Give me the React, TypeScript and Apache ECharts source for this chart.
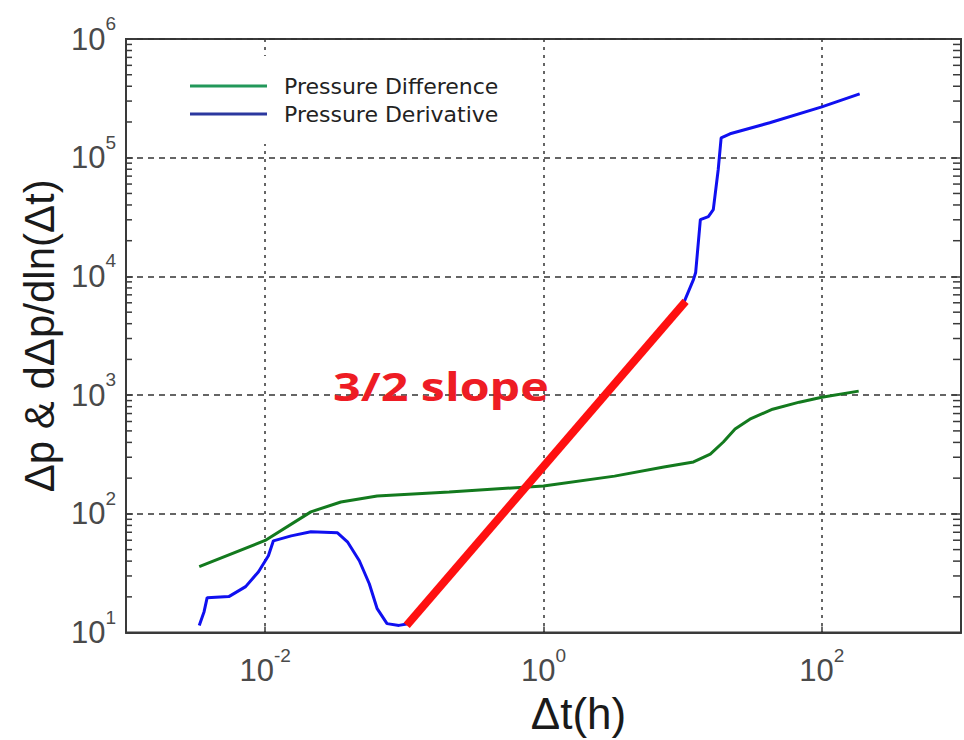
import React, { useEffect, useRef } from 'react';
import * as echarts from 'echarts';

// Pressure Difference (green)
const diffTime = [0.00336, 0.01, 0.0213, 0.035, 0.0638, 0.21, 1.0, 3.24, 7.33, 11.97, 15.8, 19.6, 23.8, 30.4, 44.3, 68.9, 100, 184];
const diffValue = [35.9, 59.7, 104, 126, 141.6, 153, 172, 208, 248, 274, 319, 403, 518, 628, 762, 873, 961, 1081];

// Pressure Derivative (blue)
const derivTime = [0.00336, 0.00364, 0.00383, 0.00548, 0.00724, 0.00896, 0.01055, 0.01146, 0.01537, 0.0213, 0.0331, 0.039, 0.0475, 0.056, 0.0638, 0.0751, 0.0915, 0.104, 0.3, 1, 3, 10, 11.97, 12.4, 13.4, 15.3, 16.6, 18.0, 18.9, 21.9, 42.2, 100, 187];
const derivValue = [11.5, 15, 19.7, 20.1, 24.4, 32.6, 44.4, 59.3, 65.3, 70.6, 69.3, 58.2, 40.3, 25.8, 15.9, 11.9, 11.5, 11.8, 49, 252, 1120, 5700, 9440, 10800, 30100, 31900, 36500, 79200, 147000, 159000, 197000, 268000, 345000];

// 3/2 slope line (red)
const slopeTime = [0.104, 10.5];
const slopeValue = [11.5, 6170];

// axis ranges and log minor ticks of the y axis
const xMin = 0.001;
const xMax = 1000;
const yMin = 10;
const yMax = 1e6;
const yDecades = [10, 100, 1000, 10000, 100000];
const minorMultipliers = [2, 3, 4, 5, 6, 7, 8, 9];

const seriesNames = ['Pressure Difference', 'Pressure Derivative'];
const xAxisTitle = 'Δt(h)';
const yAxisTitle = 'Δp & dΔp/dln(Δt)';
const slopeLabel = '3/2 slope';

const tickFont = '"Liberation Sans", Arial, sans-serif';
const labelColor = '#4a4a4a';
const axisColor = '#3a3a3a';
const rich = {
  b: { fontSize: 31, lineHeight: 50, fontFamily: tickFont, color: labelColor },
  s: { fontSize: 19, lineHeight: 20, verticalAlign: 'top', fontFamily: tickFont, color: labelColor },
};
const powFormatter = (skipOdd: boolean) => (v: number) => {
  const e = Math.round(Math.log10(v));
  if (skipOdd && e % 2 !== 0) return '';
  return `{b|10}{s|${e}}`;
};

const zip = (xs: number[], ys: number[]) => xs.map((x, i) => [x, ys[i]]);
const minorTickValues = yDecades.flatMap((d) => minorMultipliers.map((m) => m * d));

export default function App() {
  const ref = useRef<HTMLDivElement>(null);
  useEffect(() => {
    if (!ref.current) return;
    const chart = echarts.init(ref.current, undefined, { renderer: 'svg' });
    chart.setOption({
      animation: false,
      backgroundColor: '#ffffff',
      grid: { left: 126, top: 39, right: -6, bottom: 106, show: true, borderColor: axisColor, borderWidth: 2, backgroundColor: 'transparent' },
      legend: {
        orient: 'vertical',
        left: 180,
        top: 56,
        padding: [16, 12, 16, 10],
        backgroundColor: '#ffffff',
        icon: 'rect',
        itemWidth: 77,
        itemHeight: 3,
        itemGap: 0,
        textStyle: { fontFamily: '"DejaVu Sans", sans-serif', fontSize: 22, lineHeight: 28, color: '#222', padding: [0, 0, 0, 12] },
        data: [
          { name: seriesNames[0], itemStyle: { color: '#22985a' } },
          { name: seriesNames[1], itemStyle: { color: '#2b389f' } },
        ],
      },
      xAxis: {
        type: 'log',
        logBase: 100,
        min: xMin,
        max: xMax,
        axisLine: { show: true, lineStyle: { color: axisColor, width: 2 } },
        axisTick: { show: true, inside: true, length: 6, lineStyle: { color: axisColor, width: 1.5 } },
        axisLabel: { margin: 13, formatter: powFormatter(true), rich },
        splitLine: { show: true, lineStyle: { type: [3, 5], color: '#333', width: 1.5 } },
        name: xAxisTitle,
        nameLocation: 'middle',
        nameGap: 58,
        nameTextStyle: { fontFamily: '"Liberation Sans", Arial, sans-serif', fontSize: 44, color: '#1a1a1a', padding: [0, 0, 0, 70] },
      },
      yAxis: [
        {
          type: 'log',
          logBase: 10,
          min: yMin,
          max: yMax,
          axisLine: { show: true, lineStyle: { color: axisColor, width: 2 } },
          axisTick: { show: true, inside: true, length: 7, lineStyle: { color: axisColor, width: 1.5 } },
          axisLabel: { margin: 10, formatter: powFormatter(false), rich },
          splitLine: { show: true, lineStyle: { type: [6, 5], color: '#333', width: 1.5 } },
          name: yAxisTitle,
          nameLocation: 'middle',
          nameGap: 59,
          nameRotate: 90,
          nameTextStyle: { fontFamily: '"Liberation Sans", Arial, sans-serif', fontSize: 42, color: '#1a1a1a' },
        },
        {
          type: 'log',
          logBase: 10,
          min: yMin,
          max: yMax,
          position: 'right',
          axisLine: { show: true, lineStyle: { color: axisColor, width: 2 } },
          axisTick: { show: true, inside: true, length: 9, lineStyle: { color: axisColor, width: 1.5 } },
          axisLabel: { show: false },
          splitLine: { show: false },
        },
      ],
      series: [
        {
          name: 'minor ticks',
          type: 'custom',
          silent: true,
          clip: false,
          data: minorTickValues.map((v) => [xMin, v]),
          renderItem: (_params: any, api: any) => {
            const v = api.value(1);
            const pl = api.coord([xMin, v]);
            const pr = api.coord([xMax, v]);
            const style = { stroke: axisColor, lineWidth: 1.5 };
            return {
              type: 'group',
              children: [
                { type: 'line', shape: { x1: pl[0], y1: pl[1], x2: pl[0] + 6, y2: pl[1] }, style },
                { type: 'line', shape: { x1: pr[0], y1: pr[1], x2: pr[0] - 8, y2: pr[1] }, style },
              ],
            };
          },
          z: 1,
        },
        {
          name: seriesNames[0],
          type: 'line',
          data: zip(diffTime, diffValue),
          showSymbol: false,
          symbol: 'none',
          lineStyle: { color: '#137a1e', width: 3 },
          itemStyle: { color: '#137a1e' },
          z: 2,
        },
        {
          name: seriesNames[1],
          type: 'line',
          data: zip(derivTime, derivValue),
          showSymbol: false,
          symbol: 'none',
          lineStyle: { color: '#1010f0', width: 3 },
          itemStyle: { color: '#1010f0' },
          z: 3,
        },
        {
          name: 'slope',
          type: 'line',
          data: zip(slopeTime, slopeValue),
          showSymbol: false,
          symbol: 'none',
          lineStyle: { color: '#ff1010', width: 8, cap: 'butt' },
          itemStyle: { color: '#ff1010' },
          z: 4,
        },
      ],
      graphic: [
        {
          type: 'text',
          x: 333,
          y: 386,
          scaleX: 1.21,
          z: 10,
          style: {
            text: slopeLabel,
            fill: '#ee1c24',
            fontFamily: '"Open Sans", sans-serif',
            fontWeight: 'bold',
            fontSize: 40,
            verticalAlign: 'middle',
            align: 'left',
          },
        },
      ],
    });
    return () => chart.dispose();
  }, []);
  return <div ref={ref} style={{ position: 'absolute', left: 0, top: 0, width: 964, height: 740 }} />;
}
